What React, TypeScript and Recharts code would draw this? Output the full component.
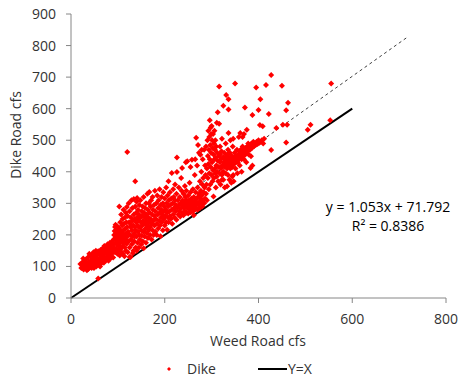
import React from 'react';
import { ScatterChart, Scatter, XAxis, YAxis, ReferenceLine } from 'recharts';

// Weed Road flow (x) vs Dike Road flow (y), grouped by flow range
const lowFlow: [number, number][] = [
  [20,108],[22,95],[24,112],[25,100],[27,90],[28,118],[30,105],[31,96],[32,122],[33,110],[35,100],[36,128],
  [37,92],[38,115],[40,105],[41,132],[42,98],[43,120],[44,110],[45,138],[46,102],[47,125],[48,115],[49,95],
  [50,130],[51,108],[52,142],[53,118],[54,100],[55,135],[56,112],[57,125],[58,148],[59,105],[60,120],[58,62],
  [26,125],[34,88],[39,140],[44,95],[48,145],[53,150],[62,100],[66,125],[70,112],[74,145],[80,118],[86,130],
  [61,138],[62,115],[63,152],[64,128],[65,110],[66,145],[67,135],[68,158],[69,120],[70,140],[71,165],[72,130],
  [73,150],[74,118],[75,160],[76,142],[77,128],[78,170],[79,150],[80,135],[81,162],[82,145],[83,175],[84,125],
  [85,155],[86,168],[87,140],[88,180],[89,150],[90,128],
];

const risingFlow: [number, number][] = [
  [90,170],[91,185],[92,200],[92,160],[93,212],[94,225],[94,145],[95,190],[95,232],[96,175],[96,205],[97,218],
  [97,155],[98,195],[98,228],[99,168],[99,140],[100,210],[100,182],[101,150],[101,198],[102,222],[102,165],
  [103,290],[103,188],[104,135],[104,205],[105,175],[105,240],[106,155],[106,215],[107,195],[107,265],[108,180],
  [108,145],[109,230],[109,205],[110,165],[110,250],[111,190],[111,140],[112,215],[112,280],[113,175],[113,235],
  [114,132],[114,200],[115,160],[115,255],[116,220],[116,185],[117,270],[117,150],[118,205],[118,240],[119,288],
  [119,172],[120,225],[120,195],[120,463],[125,130],[132,142],[140,150],[128,232],[136,195],[144,225],
  [121,260],[121,145],[122,210],[123,180],[123,300],[124,240],[125,160],[125,275],[126,200],[127,225],[127,130],
  [128,255],[128,185],[129,310],[130,215],[130,170],[131,245],[131,285],[132,195],[133,230],[133,150],[134,314],
  [134,265],[135,205],[135,180],[136,250],[136,225],[137,370],[137,290],[138,160],[138,215],[139,270],[139,240],
  [140,195],[140,305],[141,317],[141,255],[142,175],[142,230],[143,210],[143,280],[144,245],[145,160],[145,265],
  [146,200],[146,295],[147,225],[147,185],[148,255],[148,310],[149,240],[150,170],[150,215],[151,275],[151,198],
  [152,260],[152,230],[153,290],[153,180],[154,245],[155,158],[155,210],[155,320],[156,270],[157,235],[157,195],
  [158,285],[158,255],[159,220],[160,175],[160,300],[161,245],[161,265],[162,205],[163,230],[163,330],[164,280],
  [164,190],[165,255],[166,215],[166,300],[167,240],[167,336],[168,270],[169,200],[169,225],[170,290],[170,250],
  [171,310],[172,235],[172,185],[173,265],[174,215],[174,320],[175,280],[176,245],[176,200],[177,295],[178,260],
  [178,230],[179,340],[180,275],[180,210],
];

const midFlow: [number, number][] = [
  [181,250],[182,300],[183,200],[183,235],[184,325],[185,265],[186,285],[186,220],[187,310],[188,245],[189,345],
  [189,270],[190,230],[191,196],[191,295],[192,255],[193,320],[193,280],[194,240],[195,265],[196,300],[196,215],
  [197,335],[198,275],[198,250],[199,290],[200,230],[200,315],[201,260],[202,280],[203,350],[203,240],[204,300],
  [205,216],[205,270],[206,325],[207,255],[207,290],[208,370],[208,240],[209,310],[210,275],[211,260],[211,335],
  [212,295],[213,250],[214,315],[215,396],[215,280],[216,235],[217,300],[218,265],[218,345],[219,320],[220,285],
  [221,255],[222,310],[222,360],[223,275],[224,295],[225,248],[225,330],[226,399],[226,445],[227,285],[228,310],
  [229,265],[230,350],[230,295],[231,275],[232,320],[233,258],[234,300],[235,380],[235,285],[236,340],[237,412],
  [237,270],[238,310],[239,295],[240,262],[240,330],
  [241,285],[242,305],[243,275],[243,355],[244,320],[245,295],[245,430],[246,270],[246,340],[247,310],[248,285],
  [248,433],[249,300],[250,268],[250,325],[251,290],[252,310],[253,280],[253,365],[254,300],[255,272],[255,335],
  [255,415],[256,295],[257,315],[258,285],[258,438],[259,305],[260,275],[260,345],[261,290],[262,262],[262,320],
  [263,300],[264,280],[264,390],[265,310],[265,440],[266,295],[266,335],[267,508],[267,285],[268,315],[269,300],
  [269,420],[270,280],[270,350],[271,320],[271,485],[272,295],[273,330],[273,460],[274,305],[275,285],[275,370],
  [276,454],[276,315],[277,340],[278,300],[278,400],[279,325],[279,470],[280,290],[280,360],[281,440],[282,310],
  [282,380],[283,335],[284,470],[284,300],[285,350],[286,420],[286,315],[287,390],[288,330],[288,480],[289,360],
  [290,410],[290,310],
];

const highFlow: [number, number][] = [
  [291,500],[292,450],[292,380],[293,530],[293,425],[294,470],[294,345],[295,510],[295,395],[296,563],[296,440],
  [297,485],[297,360],[298,540],[298,415],[299,460],[299,520],[300,390],[300,545],[301,430],[301,500],[302,475],
  [302,370],[303,520],[303,405],[304,455],[304,322],[305,490],[305,380],[306,440],[306,530],[307,410],[307,470],
  [308,395],[308,500],[309,350],[309,445],[310,420],[310,480],[311,385],[311,555],[312,460],[312,400],[313,589],
  [313,435],[318,455],[326,445],[334,455],[342,435],[352,430],[362,445],[372,455],[322,375],[344,385],
  [314,370],[315,415],[316,450],[316,670],[316,552],[317,395],[318,430],[318,480],[319,360],[320,410],[320,440],
  [321,465],[322,390],[322,505],[323,420],[324,445],[325,609],[325,375],[325,400],[326,430],[327,460],[328,350],
  [328,415],[329,440],[330,395],[330,490],[331,643],[331,425],[332,450],[333,354],[333,410],[334,435],[335,470],
  [335,390],[336,630],[336,597],[336,523],[336,420],[337,445],[338,375],[338,430],[339,460],[340,410],[340,500],
  [341,440],[342,425],[342,365],[343,450],[344,415],[345,435],[345,480],[346,390],[346,505],[347,370],[347,445],
  [348,425],[349,460],[350,680],[350,435],[351,410],[352,450],[353,440],[354,470],[355,395],[355,445],[356,430],
  [357,455],[358,510],[358,440],[359,465],[360,420],[360,450],[361,445],[361,523],[362,470],[363,455],[364,400],
  [364,440],[365,460],[366,480],[366,510],[367,450],[368,465],[369,520],[369,440],[370,470],[371,604],[371,455],
  [372,475],[373,460],[374,430],[375,470],[375,533],[376,480],[377,465],[378,490],[379,455],[380,475],[381,485],
  [382,470],[383,412],[384,449],[384,480],[385,490],[386,475],[387,580],[387,420],[388,485],[389,495],[390,480],
  [392,490],[394,485],[395,667],[396,495],[398,488],[400,596],[400,500],[402,492],[403,548],[404,630],[405,495],
  [407,500],[409,544],[410,490],[412,505],[416,675],[422,583],[427,707],[427,469],[438,539],[450,673],[452,549],
  [459,595],[459,493],[461,549],[463,619],[505,533],[511,549],[553,563],[555,680],
];

const xTicks = [0, 200, 400, 600, 800];
const yTicks = [0, 100, 200, 300, 400, 500, 600, 700, 800, 900];
const trendEnds = [{ x: 21, y: 92 }, { x: 718, y: 827 }];
const identityEnds = [{ x: 0, y: 0 }, { x: 600, y: 600 }];

const dikeData = [...lowFlow, ...risingFlow, ...midFlow, ...highFlow].map(([x, y]) => ({ x, y }));

const FONT = '"Open Sans", sans-serif';
const AXIS = '#868686';
const TEXT = '#333333';

const Diamond = (props: any) => {
  const { cx, cy } = props;
  if (cx == null || cy == null) return <g />;
  const r = 3;
  return <polygon points={`${cx},${cy - r} ${cx + r},${cy} ${cx},${cy + r} ${cx - r},${cy}`} fill="#ff0000" />;
};

export default function App() {
  return (
    <div style={{ position: 'absolute', left: 0, top: 0, width: 460, height: 379, background: '#fff', fontFamily: FONT, color: TEXT }}>
      <ScatterChart width={460} height={379} margin={{ top: 14, right: 14, bottom: 36, left: 0 }}>
        <XAxis
          type="number"
          dataKey="x"
          domain={[0, 800]}
          ticks={xTicks}
          stroke={AXIS}
          tickSize={5}
          tickMargin={11}
          height={45}
          tick={{ fill: TEXT, fontSize: 14, fontFamily: FONT }}
        />
        <YAxis
          type="number"
          dataKey="y"
          domain={[0, 900]}
          ticks={yTicks}
          stroke={AXIS}
          tickSize={5}
          tickMargin={10}
          width={71}
          tick={{ fill: TEXT, fontSize: 14, fontFamily: FONT }}
        />
        <Scatter data={dikeData} shape={<Diamond />} isAnimationActive={false} />
        <ReferenceLine segment={trendEnds} stroke="#404040" strokeWidth={1} strokeDasharray="3 3" ifOverflow="visible" />
        <ReferenceLine segment={identityEnds} stroke="#000" strokeWidth={2} ifOverflow="visible" />
      </ScatterChart>

      <div style={{ position: 'absolute', left: 0, top: 135, transform: 'translate(15px, 0) translate(-50%, -50%) rotate(-90deg)', fontSize: 14, whiteSpace: 'nowrap', transformOrigin: 'center' }}>
        Dike Road cfs
      </div>
      <div style={{ position: 'absolute', left: 258, top: 340, transform: 'translate(-50%, -50%)', fontSize: 14, whiteSpace: 'nowrap' }}>
        Weed Road cfs
      </div>
      <div style={{ position: 'absolute', left: 388, top: 216, transform: 'translate(-50%, -50%)', fontSize: 14, textAlign: 'center', lineHeight: '19px', whiteSpace: 'nowrap', color: '#000' }}>
        <div>y = 1.053x + 71.792</div>
        <div>R² = 0.8386</div>
      </div>

      <div style={{ position: 'absolute', left: 0, top: 369, width: 460, height: 0 }}>
        <svg width={12} height={12} style={{ position: 'absolute', left: 163, top: -6 }}>
          <polygon points="6,4 8,6 6,8 4,6" fill="#ff0000" />
        </svg>
        <span style={{ position: 'absolute', left: 187, top: -10, fontSize: 14, lineHeight: '20px' }}>Dike</span>
        <svg width={30} height={4} style={{ position: 'absolute', left: 258, top: -2 }}>
          <line x1={0} y1={2} x2={29} y2={2} stroke="#000" strokeWidth={2} />
        </svg>
        <span style={{ position: 'absolute', left: 288, top: -10, fontSize: 14, lineHeight: '20px' }}>Y=X</span>
      </div>
    </div>
  );
}
